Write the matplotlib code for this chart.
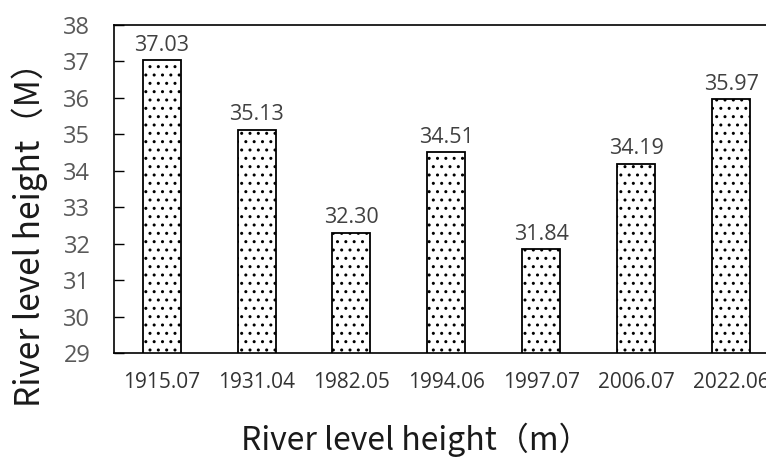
import matplotlib.pyplot as plt

plt.rcParams['font.family'] = ['Open Sans', 'Noto Sans CJK SC', 'DejaVu Sans']
plt.rcParams['hatch.linewidth'] = 1.0

# dates of the flood records and the river level at each
dates = ['1915.07', '1931.04', '1982.05', '1994.06', '1997.07', '2006.07', '2022.06']
levels = [37.03, 35.13, 32.30, 34.51, 31.84, 34.19, 35.97]

fig = plt.figure(figsize=(7.66, 4.57), dpi=100)
# the original picture is cut off on the right, so the axes run past the edge
ax = fig.add_axes([114 / 766, 104 / 457, 665 / 766, 328 / 457])

x = range(len(dates))
bars = ax.bar(x, levels, width=0.4, bottom=0, color='white', edgecolor='black',
              linewidth=1.3, hatch='..')
for b, v in zip(bars, levels):
    ax.text(b.get_x() + b.get_width() / 2, v + 0.12, f'{v:.2f}', ha='center', va='bottom',
            fontsize=15.5, color='#404040')

ax.set_ylim(29, 38)
ax.set_xlim(-0.5, len(dates) - 0.5)
ax.set_yticks(range(29, 39))
ax.set_xticks(list(x))
ax.set_xticklabels(dates)
ax.tick_params(axis='y', direction='in', length=7, width=1, labelsize=17,
               labelcolor='#595959', pad=17)
ax.tick_params(axis='x', length=0, labelsize=15, labelcolor='#333333', pad=14)
for s in ax.spines.values():
    s.set_linewidth(1.2)

fig.text(416 / 766, 1 - 440 / 457, 'River level height（m）', ha='center', va='center',
         fontsize=23, color='#1a1a1a', family=['Noto Sans CJK SC', 'DejaVu Sans'])
fig.text(30 / 766, 1 - 226 / 457, 'River level height（M）', ha='center', va='center',
         rotation=90, fontsize=24, color='#1a1a1a', family=['Noto Sans CJK SC', 'DejaVu Sans'])

fig.savefig('out.png', dpi=100)
